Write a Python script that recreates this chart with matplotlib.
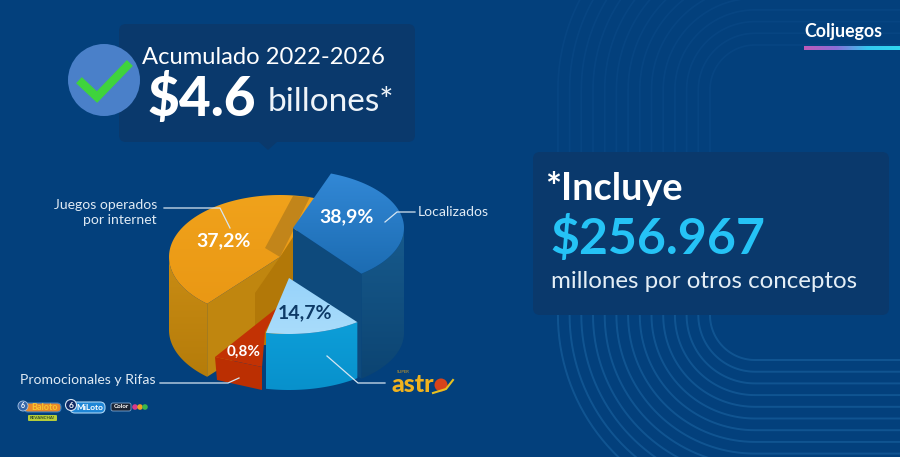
import numpy as np
import matplotlib
matplotlib.use('Agg')
import matplotlib.pyplot as plt
from matplotlib.patches import Circle, FancyBboxPatch, Polygon
from matplotlib.colors import LinearSegmentedColormap

BG = '#03407c'
BOX = '#0a396c'

# pie data, sweep (degrees, not proportional to the labels)
slice_names = ['Localizados', 'Super Astro', 'Promocionales y Rifas', 'Juegos operados por internet']
slice_labels = ['38,9%', '14,7%', '0,8%', '37,2%']
slice_sweeps = [122, 50, 29, 159]
start_angle = 70

logos_small = ['Baloto', 'MiLoto', 'Color']


def grad_fill(ax, pts, c1, c2, vertical=False, zorder=2):
    # gradient image clipped by the polygon
    pts = np.array(pts)
    cmap = LinearSegmentedColormap.from_list('g', [c1, c2])
    g = np.linspace(0, 1, 128)
    g = g[:, None] if vertical else g[None, :]
    x0, x1, y0, y1 = pts[:, 0].min(), pts[:, 0].max(), pts[:, 1].min(), pts[:, 1].max()
    im = ax.imshow(g, cmap=cmap, extent=(x0, x1, y1, y0), aspect='auto', zorder=zorder,
                   interpolation='bilinear')
    clip = Polygon(pts, closed=True, transform=ax.transData)
    im.set_clip_path(clip)


def arc(cx, cy, a0, a1, rx=111, ry=58, n=80):
    t = np.radians(np.linspace(a0, a1, n))
    return np.c_[cx + rx * np.cos(t), cy - ry * np.sin(t)]


def sector(cx, cy, a0, a1, **kw):
    return np.vstack([[cx, cy], arc(cx, cy, a0, a1, **kw)])


def side(cx, cy, a0, a1, h, **kw):
    # outer wall between two angles
    a = arc(cx, cy, a0, a1, **kw)
    return np.vstack([a, (a + [0, h])[::-1]])


fig = plt.figure(figsize=(9, 4.57), dpi=100, facecolor=BG)
ax = fig.add_axes([0, 0, 1, 1])
ax.set_xlim(0, 900)
ax.set_ylim(457, 0)
ax.axis('off')
ax.set_facecolor(BG)
plt.rcParams['font.family'] = ['Lato', 'DejaVu Sans']

# background lines, concentric around two corners
for i in range(14):
    r = 45 + i * 11.7
    t = np.radians(np.linspace(90, 180, 40))
    # bottom part
    xb = 755 + r * np.cos(t)
    yb = 315 + r * np.sin(t)
    ax.plot(np.r_[900, xb, 755 - r], np.r_[315 + r, yb, 315], color='#145a97', lw=1.4, alpha=0.8, zorder=1)
    # top part, fainter
    xt = 755 + r * np.cos(t)
    yt = 90 - r * np.sin(t)
    ax.plot(np.r_[900, xt, 755 - r], np.r_[90 - r, yt, 160], color='#0f5090', lw=1.2, alpha=0.35, zorder=1)

# angles of each slice
ang = start_angle - np.cumsum([0] + slice_sweeps)
(a_blue0, a_blue1), (a_lb0, a_lb1), (a_red0, a_red1), (a_or0, a_or1) = zip(ang[:-1], ang[1:])
a_or0, a_or1 = a_or0 + 360, a_or1 + 360

# orange slice
ocx, ocy, oh, ory = 280, 257, 73, 62
o_end = arc(ocx, ocy, a_or0, a_or0, ry=ory, n=1)[0]
grad_fill(ax, side(ocx, ocy, 180, a_or0, oh, ry=ory), '#c98c14', '#b57c0a', vertical=True, zorder=2)
ax.add_patch(Polygon([[ocx, ocy], o_end, o_end + [0, oh], [ocx, ocy + oh]], fc='#c0860f', ec='none', zorder=2.1))
ax.add_patch(Polygon([[ocx, ocy], [293, 228], [293, 345], [255, 345], [255, 293]], fc='#b27808', ec='none', zorder=2.2))
grad_fill(ax, sector(ocx, ocy, a_or1, a_or0, ry=ory), '#f0a21b', '#ea9814', vertical=True, zorder=2.3)
ax.add_patch(Polygon([[265, 248], [280, 257], [310, 197], [293, 196]], fc='#c2851a', ec='none', zorder=2.4))

# blue slice, the tallest
bcx, bcy, bh = 293, 228, 105
b_end = arc(bcx, bcy, a_blue1, a_blue1, n=1)[0]
grad_fill(ax, side(bcx, bcy, a_blue1, 0, bh), '#175a8c', '#0c4472', vertical=True, zorder=3)
ax.add_patch(Polygon([[bcx, bcy], b_end, b_end + [0, bh], [bcx, bcy + bh]], fc='#0e4a7c', ec='none', zorder=3.1))
grad_fill(ax, sector(bcx, bcy, a_blue1, a_blue0), '#3288d6', '#1c6cb2', vertical=True, zorder=3.2)

# red slice, low
ax.add_patch(Polygon([[278, 307], [265, 332], [262, 367], [215, 357]], fc='#c23204', ec='none', zorder=4))
ax.add_patch(Polygon([[215, 357], [262, 367], [262, 390], [217, 380]], fc='#bb2f02', ec='none', zorder=4.1))

# light blue slice
lcx, lcy, lh, lry = 289, 278, 56, 56
grad_fill(ax, side(lcx, lcy, a_lb1, a_lb0, lh, ry=lry), '#0d9ed8', '#0891cc', vertical=True, zorder=5)
grad_fill(ax, sector(lcx, lcy, a_lb1, a_lb0, ry=lry), '#97d3fa', '#a9dcfb', vertical=True, zorder=5.1)

# slice percentages
label_colors = ['white', '#0d3a66', 'white', 'white']
label_sizes = [14, 14, 11, 14]
label_pos = [(347, 217), (305, 313), (244, 352), (224, 241)]
for lab, c, s, p in zip(slice_labels, label_colors, label_sizes, label_pos):
    ax.text(p[0], p[1], lab, color=c, fontsize=s, fontweight='bold', ha='center', va='center', zorder=8)

# leaders
lead = '#d6e6f2'
ax.plot([385, 397, 415], [222, 212, 212], color=lead, lw=0.9, zorder=7)
ax.plot([164, 220, 230], [208, 208, 228], color=lead, lw=0.9, zorder=7)
ax.plot([160, 228, 239], [383, 383, 378], color=lead, lw=0.9, zorder=7)
ax.plot([327, 358, 385], [356, 383, 383], color=lead, lw=0.9, zorder=7)

txt = '#dfeaf4'
ax.text(418, 212, 'Localizados', color=txt, fontsize=10.1, va='center', zorder=8)
ax.text(157, 205, 'Juegos operados', color=txt, fontsize=10.1, va='center', ha='right', zorder=8)
ax.text(157, 220, 'por internet', color=txt, fontsize=10.1, va='center', ha='right', zorder=8)
ax.text(20, 380, 'Promocionales y Rifas', color=txt, fontsize=10.1, va='center', zorder=8)

# astro logo
ax.text(392, 385, 'astr', color='#f0b21e', fontsize=18, fontweight='black', va='center', zorder=8)
ax.text(397, 372, 'SUPER', color='#d9a11e', fontsize=3, va='center', zorder=8)
ax.add_patch(Circle((441, 385), 6.5, fc='#d8431a', ec='none', zorder=8))
ax.plot([433, 446, 453], [393, 389, 380], color='#e8c020', lw=1.5, zorder=9)

# small lottery logos
ax.add_patch(FancyBboxPatch((24, 403), 37, 9, boxstyle='round,pad=0,rounding_size=4', fc='#e8882a', ec='#3d7fc2', lw=0.8, zorder=4))
ax.add_patch(Circle((23, 406), 5, fc='#3566a8', ec='#a9c4e4', lw=0.6, zorder=5))
ax.text(23, 406, '6', color='white', fontsize=5, fontweight='bold', ha='center', va='center', zorder=6)
ax.text(44, 407.5, logos_small[0], color='#f7c72e', fontsize=6.5, fontweight='bold', ha='center', va='center', zorder=6)
ax.add_patch(FancyBboxPatch((28, 415), 29, 6, boxstyle='round,pad=0,rounding_size=1', fc='#b5cc3a', ec='none', zorder=4))
ax.text(42.5, 418, 'REVANCHA!', color='#2c4a2a', fontsize=3.2, fontweight='bold', ha='center', va='center', zorder=6)
ax.add_patch(FancyBboxPatch((70, 402), 35, 11, boxstyle='round,pad=0,rounding_size=5', fc='#1f86d6', ec='#a9d4f4', lw=0.8, zorder=4))
ax.add_patch(Circle((71, 405), 5.5, fc='#102a66', ec='#d7e6f4', lw=0.8, zorder=5))
ax.text(71, 405, '6', color='white', fontsize=6, fontweight='bold', ha='center', va='center', zorder=6)
ax.text(90, 407.5, logos_small[1], color='white', fontsize=6, fontweight='bold', ha='center', va='center', zorder=6)
ax.add_patch(FancyBboxPatch((111, 403), 20, 8, boxstyle='round,pad=0,rounding_size=2', fc='#1b2433', ec='#7fa8d4', lw=0.6, zorder=4))
ax.text(121, 407, logos_small[2], color='white', fontsize=4.5, fontweight='bold', ha='center', va='center', zorder=6)
for x, c in zip([135, 140, 145], ['#d83a8a', '#f0a020', '#3cb64a']):
    ax.add_patch(Circle((x, 407), 2.8, fc=c, ec='none', zorder=5))

# top callout
ax.add_patch(FancyBboxPatch((119, 24), 296, 118, boxstyle='round,pad=0,rounding_size=7', fc=BOX, ec='none', zorder=2))
ax.add_patch(Polygon([[259, 142], [277, 142], [268, 150]], fc=BOX, ec='none', zorder=2))
ax.add_patch(Circle((104, 80), 36, fc='#4a80c9', ec='none', zorder=3))
ax.plot([82, 97, 127], [83, 97, 66], color='#3fd33c', lw=6, solid_joinstyle='miter', zorder=4)
ax.text(142, 57, 'Acumulado 2022-2026', color='white', fontsize=17.1, va='center', zorder=5)
ax.text(148, 99, '$4.6', color='white', fontsize=39.5, fontweight='black', va='center', zorder=5)
ax.text(268, 102, 'billones*', color='#eef4f9', fontsize=24, va='center', zorder=5)

# right box
ax.add_patch(FancyBboxPatch((533, 152), 356, 163, boxstyle='round,pad=0,rounding_size=7', fc=BOX, ec='none', zorder=2))
ax.text(545, 189, '*Incluye', color='white', fontsize=27.3, fontweight='bold', va='center', zorder=5)
ax.text(550, 238, '$256.967', color='#25c3f6', fontsize=36, fontweight='bold', va='center', zorder=5)
ax.text(551, 281, 'millones por otros conceptos', color='#e4eef6', fontsize=17.4, va='center', zorder=5)

# corner brand
ax.text(804, 31, 'Coljuegos', color='white', fontsize=12.8, fontweight='bold', va='center', zorder=5)
bar = np.linspace(0, 1, 128)[None, :]
cm = LinearSegmentedColormap.from_list('b', ['#c05ab8', '#8a6fd8', '#35c8f0', '#2fd8f0'])
ax.imshow(bar, cmap=cm, extent=(804, 900, 50, 46), aspect='auto', zorder=5)

ax.set_xlim(0, 900)
ax.set_ylim(457, 0)
fig.savefig('out.png', dpi=100, facecolor=BG)
